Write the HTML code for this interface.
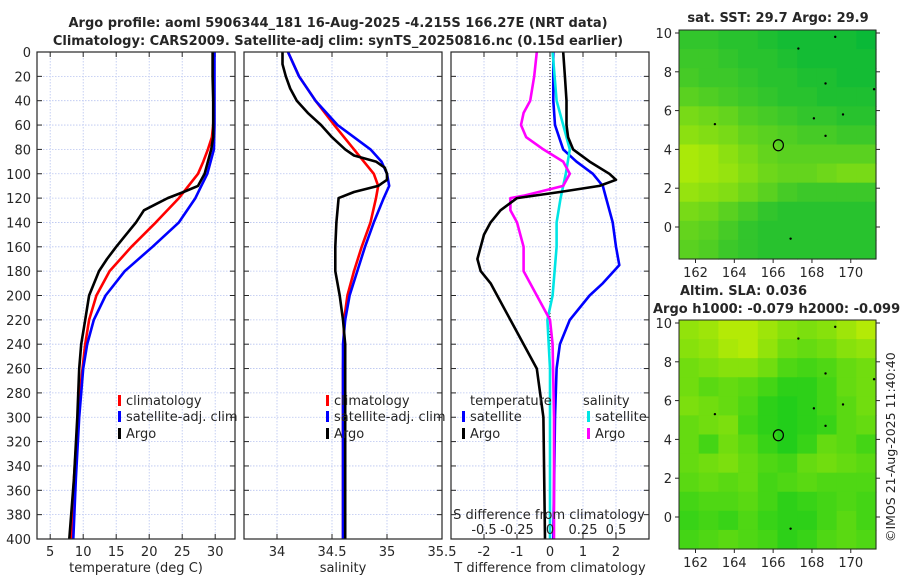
<!DOCTYPE html>
<html><head><meta charset="utf-8"><style>
body{margin:0;background:#fff;width:900px;height:580px;overflow:hidden}
svg{font-family:"DejaVu Sans","Liberation Sans",sans-serif}
</style></head><body>
<svg id="c" width="900" height="580" xmlns="http://www.w3.org/2000/svg"></svg>
<script>
// ---- data ----
const depthTicks=[0,20,40,60,80,100,120,140,160,180,200,220,240,260,280,300,320,340,360,380,400];
const tempTicks=[5,10,15,20,25,30];
const salTicks=[34,34.5,35,35.5];
const salTickLabels=["34","34.5","35","35.5"];
const tdTicks=[-2,-1,0,1,2];
const sdTicks=[-0.5,-0.25,0,0.25,0.5];
const sdTickLabels=["-0.5","-0.25","0","0.25","0.5"];

const climTDepth=[0,20,40,60,70,80,90,100,120,140,160,180,200,220,240,270,300,350,400];
const climT=[29.8,29.8,29.8,29.7,29.5,28.9,28.2,27.4,24.5,21,17.3,14,12,10.9,10.3,9.7,9.2,8.6,8.2];
const satTDepth=[0,20,40,60,80,90,100,110,120,140,160,180,200,220,240,260,300,350,400];
const satT=[29.9,29.9,29.9,29.9,29.8,29.3,28.8,27.9,27,24.5,20.5,16.3,13.4,11.6,10.6,10,9.4,8.9,8.5];
const argoTDepth=[0,20,40,60,70,80,90,100,110,115,120,125,130,140,150,160,170,180,200,220,240,260,300,350,400];
const argoT=[29.6,29.6,29.7,29.7,29.7,29.4,28.9,28.4,27.4,25.2,22.8,21,19.2,18,16.5,15,13.6,12.4,10.9,10.3,9.7,9.4,9.1,8.6,7.9];

const climSDepth=[0,20,40,60,80,100,110,120,140,160,180,200,220,260,300,400];
const climS=[34.1,34.2,34.35,34.52,34.7,34.88,34.92,34.9,34.85,34.77,34.7,34.64,34.61,34.6,34.6,34.6];
const satSDepth=[0,20,40,60,70,80,90,100,110,120,140,160,180,200,220,240,300,400];
const satS=[34.1,34.2,34.35,34.55,34.7,34.85,34.95,35,35.02,34.97,34.88,34.8,34.73,34.66,34.62,34.6,34.6,34.6];
const argoSDepth=[0,10,20,30,40,50,60,70,80,85,90,95,100,105,110,115,120,130,140,160,180,200,220,240,300,400];
const argoS=[34.05,34.05,34.08,34.12,34.18,34.28,34.4,34.5,34.62,34.7,34.9,34.98,35.0,35.0,34.92,34.7,34.56,34.55,34.54,34.53,34.53,34.57,34.6,34.62,34.62,34.62];

const dTDepthSat=[0,20,40,60,80,90,100,110,120,140,160,175,190,200,220,240,260,300,400];
const dTSat=[0.1,0.1,0.1,0.15,0.4,0.8,1.3,1.6,1.7,1.9,2.0,2.1,1.6,1.2,0.6,0.3,0.2,0.15,0.1];
const dTDepthArgo=[0,20,40,60,70,80,90,100,105,110,115,120,130,140,150,160,170,180,190,200,220,240,260,280,300,400];
const dTArgo=[0.4,0.45,0.5,0.5,0.55,0.7,1.2,1.8,2.0,1.5,0.3,-1.0,-1.5,-1.8,-2.0,-2.1,-2.2,-2.1,-1.8,-1.6,-1.2,-0.8,-0.4,-0.3,-0.2,-0.15];
const dSDepthSat=[0,40,60,80,100,120,140,160,200,220,260,400];
const dSSat=[0.02,0.05,0.1,0.15,0.12,0.08,0.05,0.05,0.02,-0.02,0,0];
const dSDepthArgo=[0,20,40,50,60,70,80,90,100,110,118,120,130,140,160,180,200,220,240,300,400];
const dSArgo=[-0.1,-0.12,-0.15,-0.2,-0.22,-0.18,-0.05,0.1,0.15,0.1,-0.2,-0.3,-0.3,-0.25,-0.2,-0.2,-0.1,0.0,0.02,0.03,0.03];

const lonTicks=[162,164,166,168,170];
const latTicks=[0,2,4,6,8,10];
const sstGrid=[
[0.25,0.25,0.2,0.2,0.15,0.1,0.1,0.1,0.1,0.05],
[0.3,0.3,0.25,0.2,0.2,0.15,0.1,0.1,0.1,0.1],
[0.35,0.3,0.3,0.25,0.2,0.2,0.15,0.15,0.1,0.1],
[0.45,0.4,0.35,0.3,0.25,0.2,0.2,0.15,0.15,0.15],
[0.6,0.55,0.5,0.4,0.35,0.3,0.25,0.25,0.2,0.2],
[0.7,0.65,0.6,0.5,0.45,0.4,0.35,0.35,0.3,0.3],
[0.85,0.8,0.7,0.6,0.5,0.45,0.45,0.45,0.45,0.45],
[0.85,0.8,0.75,0.65,0.55,0.5,0.5,0.55,0.6,0.6],
[0.75,0.7,0.65,0.55,0.45,0.35,0.3,0.3,0.3,0.3],
[0.6,0.55,0.45,0.35,0.25,0.2,0.2,0.2,0.2,0.2],
[0.5,0.45,0.35,0.25,0.2,0.2,0.2,0.2,0.2,0.2],
[0.45,0.4,0.3,0.25,0.2,0.2,0.2,0.2,0.2,0.2]];
const slaGrid=[
[0.65,0.7,0.8,0.8,0.7,0.6,0.55,0.6,0.7,0.8],
[0.6,0.65,0.75,0.8,0.65,0.5,0.45,0.5,0.6,0.65],
[0.5,0.55,0.6,0.6,0.5,0.35,0.3,0.35,0.45,0.5],
[0.5,0.4,0.45,0.4,0.3,0.2,0.2,0.3,0.45,0.5],
[0.55,0.5,0.45,0.35,0.2,0.15,0.2,0.3,0.4,0.5],
[0.45,0.5,0.55,0.3,0.2,0.15,0.2,0.25,0.4,0.45],
[0.45,0.3,0.5,0.4,0.25,0.15,0.25,0.45,0.4,0.3],
[0.45,0.5,0.55,0.45,0.35,0.3,0.45,0.5,0.45,0.4],
[0.4,0.45,0.4,0.45,0.3,0.35,0.4,0.35,0.35,0.35],
[0.3,0.35,0.35,0.4,0.3,0.2,0.25,0.3,0.35,0.3],
[0.25,0.3,0.25,0.35,0.25,0.2,0.2,0.3,0.4,0.3],
[0.3,0.35,0.4,0.35,0.3,0.2,0.25,0.35,0.4,0.35]];
const argoLon=[166.27], argoLat=[4.215];

// ---- drawing ----
const NS="http://www.w3.org/2000/svg", svg=document.getElementById('c');
function el(t,a,p){const e=document.createElementNS(NS,t);for(const k in a)e.setAttribute(k,a[k]);(p||svg).appendChild(e);return e;}
function txt(s,x,y,a,p){const e=el('text',Object.assign({x:x,y:y,'font-size':13,fill:'#262626'},a||{}),p);e.textContent=s;return e;}
const Y0=52,Y1=539;
const yD=d=>Y0+(d/400)*(Y1-Y0);
function lin(d0,d1,r0,r1){return v=>r0+(v-d0)/(d1-d0)*(r1-r0);}
const P=[{x0:37,x1:235},{x0:244,x1:442},{x0:451,x1:649}];
const xT=lin(3,33,P[0].x0,P[0].x1), xS=lin(33.7,35.5,P[1].x0,P[1].x1);
const xdT=lin(-3,3,P[2].x0,P[2].x1), xdS=lin(-0.75,0.75,P[2].x0,P[2].x1);

function panel(i,xticks,xf,labels,name){
  const g=el('g',{},svg);
  
  
  const p=P[i];
  depthTicks.forEach(d=>{el('line',{x1:p.x0,x2:p.x1,y1:yD(d),y2:yD(d),stroke:'#b8c4f0','stroke-width':0.8,'stroke-dasharray':'1.5,1.5'},g);
    el('line',{x1:p.x0,x2:p.x0+5,y1:yD(d),y2:yD(d),stroke:'#262626'},g);el('line',{x1:p.x1-5,x2:p.x1,y1:yD(d),y2:yD(d),stroke:'#262626'},g);});
  xticks.forEach((v,k)=>{const x=xf(v);el('line',{x1:x,x2:x,y1:Y0,y2:Y1,stroke:'#b8c4f0','stroke-width':0.8,'stroke-dasharray':'1.5,1.5'},g);
    el('line',{x1:x,x2:x,y1:Y1-5,y2:Y1,stroke:'#262626'},g);el('line',{x1:x,x2:x,y1:Y0,y2:Y0+5,stroke:'#262626'},g);
    txt(labels?labels[k]:String(v),x,556,{'text-anchor':'middle'},g);});
  return g;
}
function line(g,ds,vs,xf,col,name){
  const pts=ds.map((d,k)=>xf(vs[k]).toFixed(1)+','+yD(d).toFixed(1)).join(' ');
  const e=el('polyline',{points:pts,fill:'none',stroke:col,'stroke-width':2.6,'stroke-linejoin':'round'},g);
  
  
}
function box(i,g){const p=P[i];el('rect',{x:p.x0,y:Y0,width:p.x1-p.x0,height:Y1-Y0,fill:'none',stroke:'#262626','stroke-width':1.2},g);}
function legendItem(g,x,y,col,label,name){
  el('rect',{x:x,y:y-10,width:3,height:11,fill:col},g);
  const t=txt(label,x+8,y,{},g);
  
  
}

// titles
const t1=txt("Argo profile: aoml 5906344_181 16-Aug-2025 -4.215S 166.27E (NRT data)",338,27,{'text-anchor':'middle','font-weight':'bold'});

const t2=txt("Climatology: CARS2009. Satellite-adj clim: synTS_20250816.nc (0.15d earlier)",338,45,{'text-anchor':'middle','font-weight':'bold'});


// y labels
depthTicks.forEach(d=>txt(String(d),31,yD(d)+5,{'text-anchor':'end'}));

// panel 1
const g1=panel(0,tempTicks,xT,null,'temperature-panel');
line(g1,climTDepth,climT,xT,'#ff0000','climatology-temperature-line');
line(g1,satTDepth,satT,xT,'#0000ff','satellite-temperature-line');
line(g1,argoTDepth,argoT,xT,'#000000','argo-temperature-line');
box(0,g1);
txt("temperature (deg C)",136,572,{'text-anchor':'middle'},g1);
legendItem(g1,118,405,'#ff0000','climatology','legend-climatology');
legendItem(g1,118,421,'#0000ff','satellite-adj. clim','legend-satellite');
legendItem(g1,118,438,'#000000','Argo','legend-argo');

// panel 2
const g2=panel(1,salTicks,xS,salTickLabels,'salinity-panel');
line(g2,climSDepth,climS,xS,'#ff0000','climatology-salinity-line');
line(g2,satSDepth,satS,xS,'#0000ff','satellite-salinity-line');
line(g2,argoSDepth,argoS,xS,'#000000','argo-salinity-line');
box(1,g2);
txt("salinity",343,572,{'text-anchor':'middle'},g2);
legendItem(g2,326,405,'#ff0000','climatology','legend-climatology-2');
legendItem(g2,326,421,'#0000ff','satellite-adj. clim','legend-satellite-2');
legendItem(g2,326,438,'#000000','Argo','legend-argo-2');

// panel 3
const g3=panel(2,tdTicks,xdT,null,'difference-panel');
el('line',{x1:xdT(0),x2:xdT(0),y1:Y0,y2:Y1,stroke:'#000','stroke-width':1,'stroke-dasharray':'1,2'},g3);
line(g3,dTDepthSat,dTSat,xdT,'#0000ff','satellite-t-diff-line');
line(g3,dSDepthSat,dSSat,xdS,'#00e5e5','satellite-s-diff-line');
line(g3,dSDepthArgo,dSArgo,xdS,'#ff00ff','argo-s-diff-line');
line(g3,dTDepthArgo,dTArgo,xdT,'#000000','argo-t-diff-line');
box(2,g3);
txt("T difference from climatology",550,572,{'text-anchor':'middle'},g3);
txt("S difference from climatology",549,519,{'text-anchor':'middle'},g3);
sdTicks.forEach((v,k)=>txt(sdTickLabels[k],xdS(v),534,{'text-anchor':'middle'},g3));
txt("temperature",470,405,{},g3);
legendItem(g3,462,421,'#0000ff','satellite','legend-t-satellite');
legendItem(g3,462,438,'#000000','Argo','legend-t-argo');
txt("salinity",583,405,{},g3);
legendItem(g3,587,421,'#00e5e5','satellite','legend-s-satellite');
legendItem(g3,587,438,'#ff00ff','Argo','legend-s-argo');

// maps
function map(top,bot,lat0,grid,c0,c1,name){
  const g=el('g',{},svg);
  
  
  const L=679,R=876;
  const xL=lin(161.15,171.3,L,R);
  const yL=lin(10,0,lat0,lat0+194);
  const rows=grid.length,cols=grid[0].length,cw=(R-L)/cols,ch=(bot-top)/rows;
  grid.forEach((row,r)=>row.forEach((v,c)=>{
    const col='rgb('+[0,1,2].map(k=>Math.round(c0[k]+(c1[k]-c0[k])*v)).join(',')+')';
    el('rect',{x:L+c*cw,y:top+r*ch,width:cw+0.6,height:ch+0.6,fill:col},g);}));
  el('rect',{x:L,y:top,width:R-L,height:bot-top,fill:'none',stroke:'#262626','stroke-width':1},g);
  lonTicks.forEach(v=>{const x=xL(v);el('line',{x1:x,x2:x,y1:bot,y2:bot+4,stroke:'#262626'},g);txt(String(v),x,bot+18,{'text-anchor':'middle'},g);});
  latTicks.forEach(v=>{const y=yL(v);el('line',{x1:L-4,x2:L,y1:y,y2:y,stroke:'#262626'},g);el('line',{x1:R,x2:R+4,y1:y,y2:y,stroke:'#262626'},g);txt(String(v),L-7,y+5,{'text-anchor':'end'},g);});
  argoLon.forEach((lo,k)=>{const m=el('ellipse',{cx:xL(lo),cy:yL(argoLat[k]),rx:5,ry:5.5,fill:'none',stroke:'#000','stroke-width':1.2},g);
    });
  [[163,5.3],[166.9,-0.6],[169.6,5.8],[171.2,7.1],[168.7,7.4],[168.1,5.6],[167.3,9.2],[169.2,9.8],[168.7,4.7]].forEach(p=>el('circle',{cx:xL(p[0]),cy:yL(p[1]),r:1.2,fill:'#000'},g));
  return g;
}
map(30,259,33,sstGrid,[0,182,58],[200,242,0],'sst-map');
txt("sat. SST: 29.7 Argo: 29.9",778,22,{'text-anchor':'middle','font-weight':'bold'});
map(320,549,323,slaGrid,[0,200,30],[225,242,0],'sla-map');
txt("Altim. SLA: 0.036",680,295,{'font-weight':'bold'});
txt("Argo h1000: -0.079 h2000: -0.099",653,313,{'font-weight':'bold'});
const cp=txt("©IMOS 21-Aug-2025 11:40:40",0,0,{transform:'translate(895,542) rotate(-90)','font-size':12.5});

</script>
</body></html>
